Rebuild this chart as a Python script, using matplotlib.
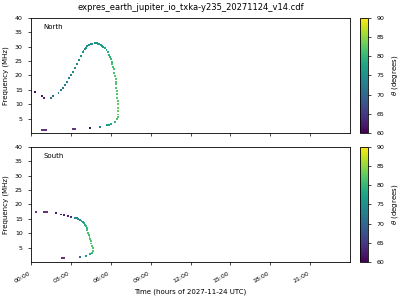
import numpy as np
import matplotlib
matplotlib.use("Agg")
import matplotlib.pyplot as plt
from matplotlib.colors import Normalize

# hours of day, frequency (MHz), theta (degrees)
north_t = [0.33, 0.8, 1.0, 1.48, 1.67, 2.07, 2.25, 2.4, 2.58, 2.73, 2.88, 3.0, 3.13,
           3.28, 3.43, 3.58, 3.73, 3.88, 3.95, 4.03, 4.12, 4.22, 4.35, 4.48, 4.62,
           4.8, 4.95, 5.05, 5.13, 5.25, 5.35, 5.43, 5.55, 5.68, 5.78, 5.88, 5.95,
           6.03, 6.08, 6.13, 6.18, 6.23, 6.27, 6.33, 6.36, 6.38, 6.4, 6.43, 6.46,
           6.48, 6.5, 6.52, 6.53, 6.53, 6.53, 6.53, 6.52, 6.48, 6.3, 6.05, 5.88,
           5.73, 5.18, 4.43]
north_f = [14.3, 13.0, 12.2, 12.3, 12.7, 14.0, 14.8, 15.7, 16.7, 17.8, 19.0, 20.2, 21.3,
           22.7, 24.1, 25.4, 26.7, 28.0, 28.6, 29.2, 29.7, 30.1, 30.5, 30.8, 31.1,
           31.3, 31.2, 31.05, 30.9, 30.6, 30.3, 30.0, 29.4, 28.8, 28.0, 27.2, 26.5,
           25.7, 24.8, 23.9, 23.0, 22.2, 21.0, 19.8, 18.8, 17.8, 16.9, 15.7, 14.5,
           13.4, 12.2, 11.0, 9.9, 8.8, 7.6, 6.4, 5.5, 4.7, 3.8, 3.1, 2.9,
           2.8, 2.2, 1.7]
north_th = [61, 62, 63, 71, 71, 72, 72, 72, 73, 73, 73, 73, 74,
            74, 74, 74, 75, 75, 75, 75, 75, 75, 75, 75, 75,
            75, 76, 76, 76, 77, 77, 77, 78, 78, 79, 79, 80,
            80, 80, 81, 81, 81, 81, 82, 82, 82, 82, 82, 82,
            82, 82, 82, 83, 83, 83, 83, 82, 82, 80, 78, 77,
            76, 72, 62]

south_t = [1.85, 2.23, 2.5, 2.75, 2.98, 3.3, 3.45, 3.55, 3.68, 3.8, 3.9, 3.98, 4.06,
           4.13, 4.18, 4.23, 4.29, 4.35, 4.4, 4.45, 4.5, 4.55, 4.6, 4.65, 4.67,
           4.6, 4.43, 4.13, 3.68]
south_f = [16.9, 16.5, 16.3, 16.0, 15.7, 15.4, 15.2, 14.9, 14.6, 14.3, 13.9, 13.5, 13.0,
           12.4, 11.7, 11.0, 10.2, 9.5, 8.7, 8.0, 7.2, 6.4, 5.5, 4.7, 3.8,
           3.1, 2.6, 2.2, 1.7]
south_th = [62, 62, 63, 63, 64, 74, 75, 75, 75, 76, 77, 78, 79,
            80, 80, 81, 81, 81, 82, 82, 82, 82, 82, 82, 82,
            80, 78, 76, 70]

# horizontal dashes: start hour, end hour, frequency, theta
north_dash = [(0.78, 1.2, 1.0, 61), (3.08, 3.42, 1.5, 61), (4.38, 4.5, 1.7, 61)]
south_dash = [(0.28, 0.45, 17.4, 61), (0.9, 1.28, 17.4, 61), (2.28, 2.58, 1.4, 61)]

hours = np.arange(0, 24, 3)
tick_labels = ["%02d:00" % h for h in hours]

plt.rcParams["font.size"] = 5
fig = plt.figure(figsize=(4, 3), dpi=100)
cmap = plt.get_cmap("viridis")
norm = Normalize(60, 90)

panels = [
    ("North", north_t, north_f, north_th, north_dash, [0.0775, 0.557, 0.7975, 0.383], [0.9, 0.557, 0.02, 0.383]),
    ("South", south_t, south_f, south_th, south_dash, [0.0775, 0.127, 0.7975, 0.383], [0.9, 0.127, 0.02, 0.383]),
]
axes = []
for name, t, f, th, dashes, pos, cpos in panels:
    ax = fig.add_axes(pos)
    sc = ax.scatter(t, f, c=th, cmap=cmap, norm=norm, marker="s", s=2.0, linewidths=0)
    for t0, t1, fd, thd in dashes:
        ax.hlines(fd, t0, t1, colors=[cmap(norm(thd))], lw=1.2)
    ax.set_xlim(0, 24)
    ax.set_ylim(0, 40)
    ax.set_yticks(np.arange(5, 41, 5))
    ax.set_xticks(hours)
    ax.set_ylabel("Frequency (MHz)", fontsize=5)
    ax.text(0.038, 0.9, name, transform=ax.transAxes, fontsize=5)
    ax.tick_params(labelsize=4.5, length=2.5, width=0.5)
    for s in ax.spines.values():
        s.set_linewidth(0.6)
    cax = fig.add_axes(cpos)
    cb = fig.colorbar(sc, cax=cax)
    cb.set_ticks(np.arange(60, 91, 5))
    cb.set_label(r"$\theta$ (degrees)", fontsize=5)
    cb.ax.tick_params(labelsize=4.5, length=2.5, width=0.5)
    cb.outline.set_linewidth(0.6)
    axes.append(ax)

axes[0].set_xticklabels([])
axes[1].set_xticklabels(tick_labels, rotation=30, ha="right")
axes[1].set_xlabel("Time (hours of 2027-11-24 UTC)", fontsize=5)
axes[0].set_title("expres_earth_jupiter_io_txka-y235_20271124_v14.cdf", fontsize=6)

fig.savefig("out.png", dpi=100)
